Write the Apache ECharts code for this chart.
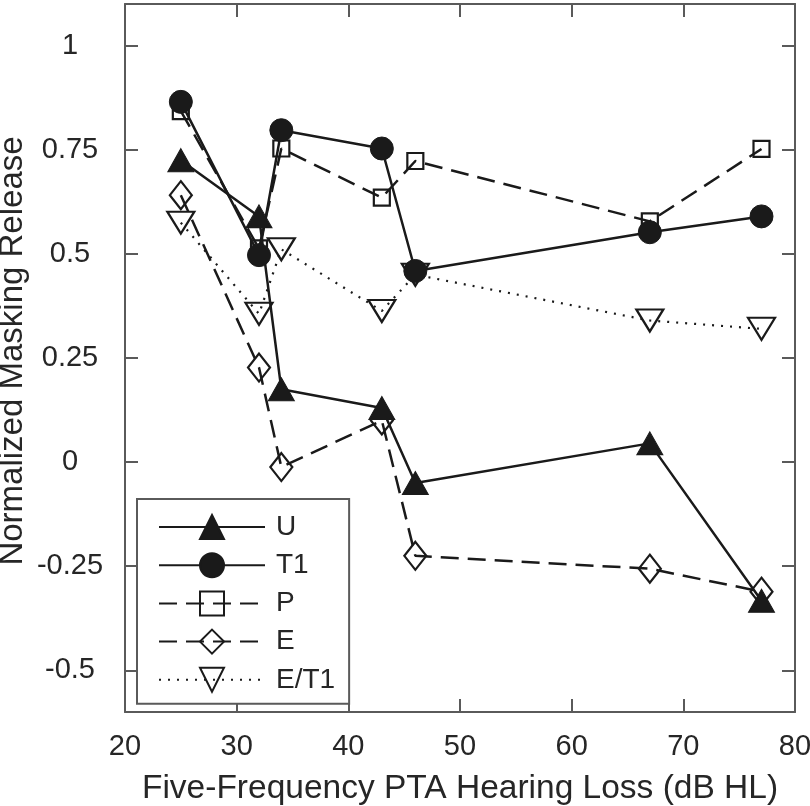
<!DOCTYPE html>
<html>
<head>
<meta charset="utf-8">
<script src="https://cdn.jsdelivr.net/npm/echarts@6/dist/echarts.min.js"></script>
<style>html,body{margin:0;padding:0;background:#fff;}#c{width:810px;height:806px;}</style>
</head>
<body>
<div id="c"></div>
<script>
const xVals = [25, 32, 34, 43, 46, 67, 77];
const U    = [0.725, 0.59, 0.175, 0.13, -0.05, 0.045, -0.333];
const T1   = [0.865, 0.497, 0.797, 0.753, 0.459, 0.552, 0.59];
const P    = [0.843, 0.513, 0.753, 0.635, 0.723, 0.578, 0.752];
const E    = [0.641, 0.227, -0.012, 0.100, -0.225, -0.256, -0.311];
const ET1  = [0.575, 0.356, 0.511, 0.363, 0.45, 0.34, 0.32];
const yTicks = [-0.5, -0.25, 0, 0.25, 0.5, 0.75, 1];
const xTicks = [20, 30, 40, 50, 60, 70, 80];
const xName = 'Five-Frequency PTA Hearing Loss (dB HL)';
const yName = 'Normalized Masking Release';

const FONT = 'Liberation Sans, Arial, Helvetica, sans-serif';
const AX = '#5a5a5a';
const TXT = '#262626';
const LC = '#1a1a1a';

function pairs(ys){ return xVals.map((x,i)=>[x, ys[i]]); }

const chart = echarts.init(document.getElementById('c'), null, {renderer:'canvas'});

function axLine(){ return {show:true, onZero:false, lineStyle:{color:AX, width:2}}; }
function axTick(vals){ return {show:true, inside:true, length:13, lineStyle:{color:AX, width:2}, customValues:vals}; }

const option = {
  backgroundColor:'#fff',
  animation:false,
  grid:{left:125, right:15, top:4, bottom:94, containLabel:false, outerBoundsMode:'none'},
  xAxis:[
    {
      type:'value', min:20, max:80, interval:10, position:'bottom',
      axisLine:axLine(), splitLine:{show:false},
      axisTick:axTick(xTicks),
      axisLabel:{show:true, customValues:xTicks, margin:20, fontSize:29, color:TXT, fontFamily:FONT},
      name:xName, nameLocation:'middle', nameGap:60, nameMoveOverlap:false,
      nameTextStyle:{fontSize:33.5, color:TXT, fontFamily:FONT}
    },
    {
      type:'value', min:20, max:80, interval:10, position:'top',
      axisLine:axLine(), splitLine:{show:false},
      axisTick:axTick(xTicks),
      axisLabel:{show:false}
    }
  ],
  yAxis:[
    {
      type:'value', min:-0.6, max:1.1, position:'left',
      axisLine:axLine(), splitLine:{show:false},
      axisTick:axTick(yTicks),
      axisLabel:{show:true, customValues:yTicks, align:'center', margin:55, fontSize:29, color:TXT, fontFamily:FONT},
      name:yName, nameLocation:'middle', nameGap:96, nameRotate:90, nameMoveOverlap:false,
      nameTextStyle:{fontSize:33, color:TXT, fontFamily:FONT, padding:[0,0,0,14]}
    },
    {
      type:'value', min:-0.6, max:1.1, position:'right',
      axisLine:axLine(), splitLine:{show:false},
      axisTick:axTick(yTicks),
      axisLabel:{show:false}
    }
  ],
  legend:{
    orient:'vertical', left:137, top:499,
    backgroundColor:'#fff', borderColor:AX, borderWidth:2,
    padding:[14, 14, 10, 21],
    itemWidth:106, itemHeight:30, itemGap:10.2,
    textStyle:{fontSize:28, color:TXT, fontFamily:FONT, padding:[0,0,0,6]},
    data:['U','T1','P','E','E/T1']
  },
  series:[
    {name:'U', type:'line', data:pairs(U), z:5,
     symbol:'triangle', symbolSize:[26,23],
     lineStyle:{color:LC, width:2.5, type:'solid'},
     itemStyle:{color:LC, borderColor:LC, borderWidth:1}},
    {name:'T1', type:'line', data:pairs(T1), z:5,
     symbol:'circle', symbolSize:23,
     lineStyle:{color:LC, width:2.5, type:'solid'},
     itemStyle:{color:LC, borderColor:LC, borderWidth:1}},
    {name:'P', type:'line', data:pairs(P), z:3,
     symbol:'rect', symbolSize:16,
     lineStyle:{color:LC, width:2.5, type:[18,9]},
     itemStyle:{color:'rgba(255,255,255,0)', borderColor:LC, borderWidth:2.2}},
    {name:'E', type:'line', data:pairs(E), z:3,
     symbol:'diamond', symbolSize:[22,28],
     lineStyle:{color:LC, width:2.5, type:[18,9]},
     itemStyle:{color:'rgba(255,255,255,0)', borderColor:LC, borderWidth:2.2}},
    {name:'E/T1', type:'line', data:pairs(ET1), z:3,
     symbol:'triangle', symbolSize:[27,22], symbolRotate:180,
     lineStyle:{color:LC, width:2.2, type:[2,7]},
     itemStyle:{color:'rgba(255,255,255,0)', borderColor:LC, borderWidth:2.2}}
  ]
};
chart.setOption(option);
</script>
</body>
</html>
